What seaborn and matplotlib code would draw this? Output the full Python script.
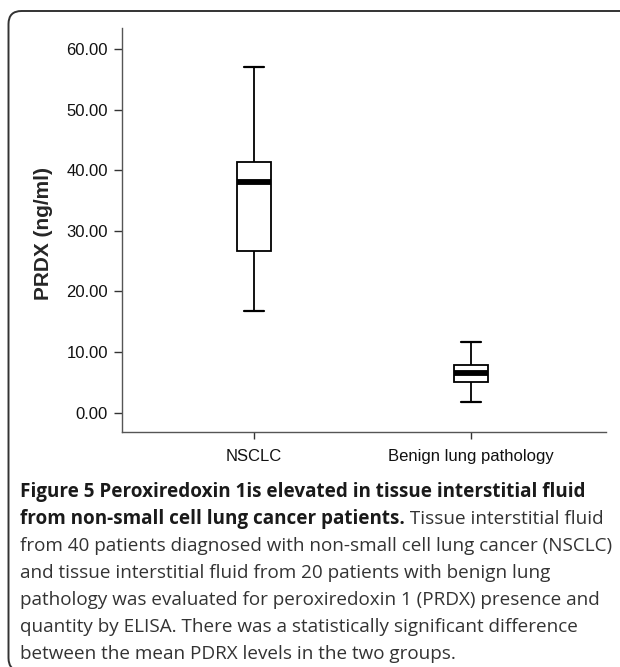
import numpy as np
import pandas as pd
import matplotlib
matplotlib.use("Agg")
import matplotlib.pyplot as plt
import seaborn as sns
from matplotlib.patches import FancyBboxPatch

# ---- data (five-number summaries) ----
categories = ["NSCLC", "Benign lung pathology"]
nsclc_values = [16.8, 26.7, 38.1, 41.3, 57.0]
benign_values = [1.8, 5.1, 6.5, 7.9, 11.7]
y_ticks = [0, 10, 20, 30, 40, 50, 60]
y_tick_labels = ["0.00", "10.00", "20.00", "30.00", "40.00", "50.00", "60.00"]
y_label = "PRDX (ng/ml)"

caption_bold_1 = "Figure 5 Peroxiredoxin 1is elevated in tissue interstitial fluid"
caption_bold_2 = "from non-small cell lung cancer patients."
caption_rest_2 = " Tissue interstitial fluid"
caption_lines = [
    "from 40 patients diagnosed with non-small cell lung cancer (NSCLC)",
    "and tissue interstitial fluid from 20 patients with benign lung",
    "pathology was evaluated for peroxiredoxin 1 (PRDX) presence and",
    "quantity by ELISA. There was a statistically significant difference",
    "between the mean PDRX levels in the two groups.",
]

df = pd.DataFrame({
    "group": [categories[0]] * len(nsclc_values) + [categories[1]] * len(benign_values),
    "value": nsclc_values + benign_values,
})

sns.set_style("white")
plt.rcParams["font.family"] = ["Liberation Sans", "DejaVu Sans"]

W, H, DPI = 620, 667, 100
fig = plt.figure(figsize=(W / DPI, H / DPI), dpi=DPI)

# axes placement in pixels
ax_left, ax_right, ax_top, ax_bottom = 122, 606, 28, 432
ax = fig.add_axes([ax_left / W, 1 - ax_bottom / H, (ax_right - ax_left) / W, (ax_bottom - ax_top) / H])

sns.boxplot(
    data=df, x="group", y="value", order=categories, ax=ax,
    width=0.16, whis=np.inf, color="white", linecolor="black", linewidth=1.3,
    fill=True, showfliers=False,
    boxprops=dict(facecolor="white", edgecolor="black", linewidth=1.3),
    medianprops=dict(color="black", linewidth=4.2, solid_capstyle="butt"),
    whiskerprops=dict(color="black", linewidth=1.3),
    capprops=dict(color="black", linewidth=1.6),
    capwidths=0.095,
)

ax.set_xlim(-0.608, 1.622)
ax.set_ylim(-3.2, 63.5)
ax.set_yticks(y_ticks)
ax.set_yticklabels(y_tick_labels)
ax.set_xlabel("")
ax.set_ylabel(y_label, fontsize=15, fontweight="bold")
ax.yaxis.set_label_coords((53 - ax_left) / (ax_right - ax_left), 1 - (234 - ax_top) / (ax_bottom - ax_top))
for s in ["top", "right"]:
    ax.spines[s].set_visible(False)
for s in ["left", "bottom"]:
    ax.spines[s].set_color("#555555")
    ax.spines[s].set_linewidth(1.0)
ax.tick_params(axis="y", direction="out", length=6, width=1.0, color="#333333",
               pad=4, labelsize=12, labelcolor="#111111", left=True)
ax.tick_params(axis="x", direction="out", length=5, width=1.0, color="#333333",
               pad=7, labelsize=12, labelcolor="#111111", bottom=True)
ax.set_facecolor("white")

# rounded frame (pixel coordinates)
frame = FancyBboxPatch((8.5, -4), 660, H - 11 + 4, boxstyle="round,pad=0,rounding_size=13",
                       transform=None, fill=False, edgecolor="#333333", linewidth=1.4)
fig.patches.append(frame)

# caption
cap_font = ["Open Sans", "DejaVu Sans"]
fs = 13.55
x0 = 20
base0 = H - 497
step = 27
fig.text(x0 / W, base0 / H, caption_bold_1, fontsize=fs, fontweight="bold",
         family=cap_font, color="#1a1a1a", va="baseline", ha="left")
t2 = fig.text(x0 / W, (base0 - step) / H, caption_bold_2, fontsize=fs, fontweight="bold",
              family=cap_font, color="#1a1a1a", va="baseline", ha="left")
renderer = fig.canvas.get_renderer()
bb = t2.get_window_extent(renderer=renderer)
fig.text(bb.x1 / W, (base0 - step) / H, caption_rest_2, fontsize=fs,
         family=cap_font, color="#333333", va="baseline", ha="left")
for i, line in enumerate(caption_lines):
    fig.text(x0 / W, (base0 - step * (i + 2)) / H, line, fontsize=fs,
             family=cap_font, color="#333333", va="baseline", ha="left")

fig.savefig("out.png", dpi=DPI, facecolor="white")
